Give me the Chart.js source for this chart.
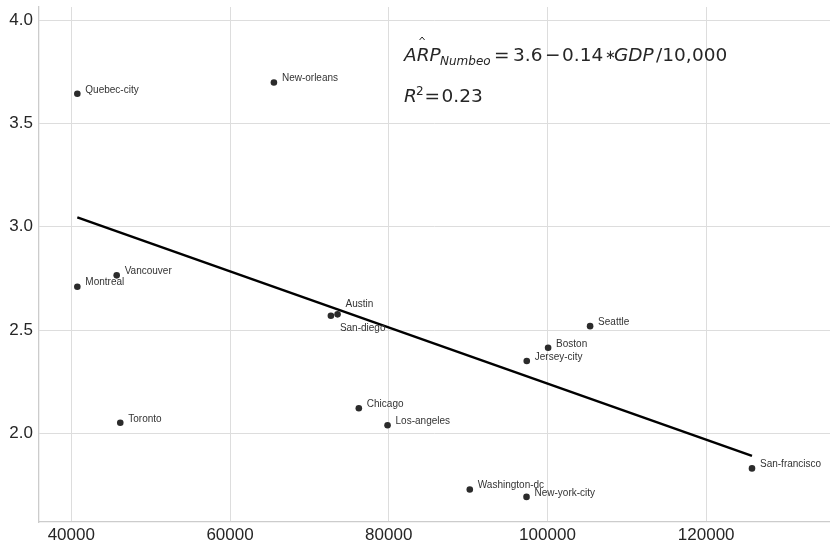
<!DOCTYPE html>
<html>
<head>
<meta charset="utf-8">
<script src="https://cdn.jsdelivr.net/npm/chart.js@4.4.1/dist/chart.umd.min.js"></script>
<style>
  html, body { margin: 0; padding: 0; background: #fff; }
</style>
</head>
<body>
<canvas id="scatterChart" width="830" height="541"></canvas>
<script>
const cities = [
  "Quebec-city", "New-orleans", "Vancouver", "Montreal", "Austin",
  "San-diego", "Toronto", "Chicago", "Los-angeles", "Boston",
  "Jersey-city", "Seattle", "San-francisco", "Washington-dc", "New-york-city",
];
const gdp = [
  40760, 65530, 45720, 40760, 73550,
  72710, 46170, 76230, 79850, 100080,
  97390, 105370, 125770, 90210, 97360,
];
const arp = [
  3.644, 3.699, 2.765, 2.710, 2.576,
  2.569, 2.051, 2.121, 2.039, 2.414,
  2.350, 2.519, 1.830, 1.728, 1.692,
];
// fitted regression line (end points)
const fitX = [40760, 125770];
const fitY = [3.046, 1.891];
const xTicks = [40000, 60000, 80000, 100000, 120000];
const yTicks = [2.0, 2.5, 3.0, 3.5, 4.0];

// label nudges (like adjustText did in the original)
const labelOffsets = {
  "Austin": { dx: 8, dy: -10 },
  "San-diego": { dx: 9, dy: 12 },
};

const pointLabels = {
  id: "pointLabels",
  afterDatasetsDraw(chart) {
    const { ctx } = chart;
    const meta = chart.getDatasetMeta(1);
    ctx.save();
    ctx.font = "10px 'Liberation Sans', Arial, sans-serif";
    ctx.fillStyle = "#333";
    ctx.textAlign = "left";
    ctx.textBaseline = "middle";
    meta.data.forEach((el, i) => {
      const off = labelOffsets[cities[i]] || { dx: 8, dy: -4 };
      ctx.fillText(cities[i], el.x + off.dx, el.y + off.dy);
    });
    ctx.restore();
  },
};

const equationText = {
  id: "equationText",
  afterDraw(chart) {
    const { ctx } = chart;
    const it = (s) => `italic ${s}px 'DejaVu Sans'`;
    const rg = (s) => `${s}px 'DejaVu Sans'`;
    ctx.save();
    ctx.fillStyle = "#262626";
    ctx.textAlign = "left";
    ctx.textBaseline = "alphabetic";

    // line 1
    const b1 = 61;
    const parts = [
      ["ARP", it(18.5), 404, 0],
      ["Numbeo", it(12), 440, 4],
      ["=", rg(18.5), 494, 0],
      ["3.6", rg(18.5), 513, 0],
      ["\u2212", rg(18.5), 545, 0],
      ["0.14", rg(18.5), 562, 0],
      ["\u2217", rg(13), 605, -2],
      ["GDP", it(18.5), 614, 0],
      ["/10,", rg(18.5), 656, 0],
      ["000", rg(18.5), 692, 0],
    ];
    parts.forEach(([t, f, x, dy]) => {
      ctx.font = f;
      ctx.fillText(t, x, b1 + dy);
    });
    // hat over R
    ctx.font = it(18.5);
    const rx = 404 + ctx.measureText("A").width + ctx.measureText("R").width / 2 - 1;
    ctx.strokeStyle = "#262626";
    ctx.lineWidth = 1;
    ctx.beginPath();
    ctx.moveTo(rx - 2.5, b1 - 21);
    ctx.lineTo(rx, b1 - 24);
    ctx.lineTo(rx + 2.5, b1 - 21);
    ctx.stroke();

    // line 2
    const b2 = 102;
    ctx.font = it(18.5);
    ctx.fillText("R", 404, b2);
    ctx.font = rg(12);
    ctx.fillText("2", 416, b2 - 7);
    ctx.font = rg(18.5);
    ctx.fillText("=", 424.5, b2);
    ctx.fillText("0.23", 441.5, b2);
    ctx.restore();
  },
};

// drop the automatic edge padding Chart.js adds for tick labels
const noPad = (s) => {
  s.paddingTop = 0;
  s.paddingBottom = 0;
  s.paddingLeft = 0;
  s.paddingRight = 0;
};

const ctx = document.getElementById("scatterChart");
new Chart(ctx, {
  type: "scatter",
  data: {
    datasets: [
      {
        type: "line",
        data: fitX.map((x, i) => ({ x, y: fitY[i] })),
        borderColor: "#000",
        borderWidth: 2.5,
        pointRadius: 0,
        fill: false,
        order: 2,
      },
      {
        type: "scatter",
        data: gdp.map((x, i) => ({ x, y: arp[i] })),
        backgroundColor: "#2b2b2b",
        borderWidth: 0,
        pointRadius: 3.3,
        order: 1,
      },
    ],
  },
  options: {
    responsive: false,
    animation: false,
    layout: {
      autoPadding: false,
      padding: { top: 7, left: 0, right: 0, bottom: 0 },
    },
    plugins: {
      legend: { display: false },
      tooltip: { enabled: false },
    },
    scales: {
      x: {
        type: "linear",
        min: 35930,
        max: 135600,
        afterBuildTicks: (s) => { s.ticks = xTicks.map((v) => ({ value: v })); },
        afterFit: (s) => { s.height = 19; noPad(s); },
        grid: { color: "#dddddd", lineWidth: 1, drawTicks: false },
        border: { color: "#cccccc", width: 1.3 },
        ticks: {
          padding: 3,
          color: "#262626",
          autoSkip: false,
          maxRotation: 0,
          font: { size: 17, family: "'Liberation Sans', Arial, sans-serif" },
          callback: (v) => String(v),
        },
      },
      y: {
        min: 1.5705,
        max: 4.0644,
        afterBuildTicks: (s) => { s.ticks = yTicks.map((v) => ({ value: v })); },
        afterFit: (s) => { s.width = 39; noPad(s); },
        grid: { color: "#dddddd", lineWidth: 1, drawTicks: false },
        border: { color: "#cccccc", width: 1.3 },
        ticks: {
          padding: 6,
          color: "#262626",
          font: { size: 17, family: "'Liberation Sans', Arial, sans-serif" },
          callback: (v) => v.toFixed(1),
        },
      },
    },
  },
  plugins: [pointLabels, equationText],
});
</script>
</body>
</html>
